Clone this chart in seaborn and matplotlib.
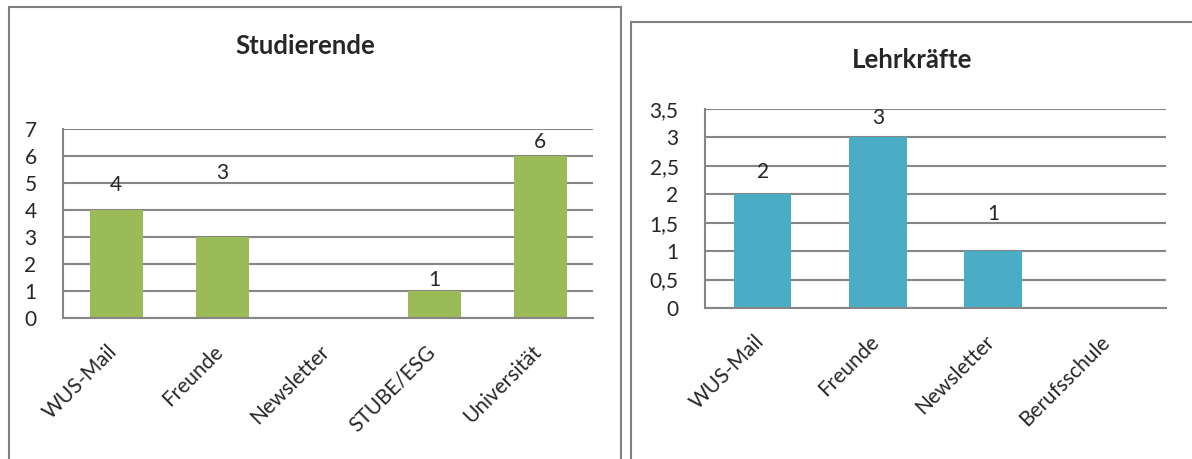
import matplotlib
matplotlib.use("Agg")
import matplotlib.pyplot as plt
import matplotlib.patches as patches
import matplotlib.transforms as mtransforms
from matplotlib.ticker import FuncFormatter, FixedLocator
import numpy as np
import pandas as pd
import seaborn as sns

# data
stud_cats = ["WUS-Mail", "Freunde", "Newsletter", "STUBE/ESG", "Universität"]
stud_vals = [4, 3, 0, 1, 6]
lehr_cats = ["WUS-Mail", "Freunde", "Newsletter", "Berufsschule"]
lehr_vals = [2, 3, 1, 0]

# label lift above each bar (data units), as placed in the original
stud_lift = [0.93, 2.37, 0, 0.41, 0.53]
lehr_lift = [0.39, 0.34, 0.65, 0]

sns.set_style("white")
plt.rcParams["font.family"] = ["Lato", "DejaVu Sans"]

W, H = 1192, 459
GREEN = "#9BBB59"
BLUE = "#4BACC6"
GRID = "#868686"
FS = 15


def px_axes(fig, x0, y0, x1, y1):
    # axes from pixel box (top-left origin)
    return fig.add_axes([x0 / W, (H - y1) / H, (x1 - x0) / W, (y1 - y0) / H])


def draw_panel(ax, cats, vals, lift, color, ymax, ystep):
    df = pd.DataFrame({"cat": cats, "val": vals})
    sns.barplot(data=df, x="cat", y="val", color=color, width=0.5,
                saturation=1, linewidth=0, ax=ax)
    n = len(cats)
    ax.set_xlim(-0.5, n - 0.5)
    ax.set_ylim(0, ymax)
    ax.set_xlabel("")
    ax.set_ylabel("")
    ticks = np.arange(0, ymax + ystep / 2, ystep)
    ax.yaxis.set_major_locator(FixedLocator(ticks))
    ax.yaxis.set_major_formatter(
        FuncFormatter(lambda v, p: ("%g" % v).replace(".", ",")))
    ax.grid(axis="y", color=GRID, lw=1.5)
    ax.set_axisbelow(True)
    for s in ["top", "right"]:
        ax.spines[s].set_visible(False)
    for s in ["left", "bottom"]:
        ax.spines[s].set_color(GRID)
        ax.spines[s].set_linewidth(1.5)
    ax.tick_params(axis="y", direction="out", length=8, width=1.5,
                   color=GRID, labelsize=FS, pad=11)
    ax.set_xticks(range(n))
    ax.set_xticklabels(cats, rotation=45, ha="right", rotation_mode="anchor",
                       fontsize=FS)
    ax.tick_params(axis="x", which="major", length=0, pad=17)
    shift = mtransforms.ScaledTranslation(-9 / 100, 0, ax.figure.dpi_scale_trans)
    for lab in ax.get_xticklabels():
        lab.set_transform(lab.get_transform() + shift)
    ax.set_xticks(np.arange(-0.5, n), minor=True)
    ax.tick_params(axis="x", which="minor", direction="out", length=7,
                   width=1.5, color=GRID)
    for i, (v, d) in enumerate(zip(vals, lift)):
        if v:
            ax.text(i, v + d, str(v), ha="center", va="center", fontsize=FS)


fig = plt.figure(figsize=(W / 100, H / 100), dpi=100)

ax1 = px_axes(fig, 63, 129, 593, 318)
draw_panel(ax1, stud_cats, stud_vals, stud_lift, GREEN, 7, 1)

ax2 = px_axes(fig, 705, 109, 1166, 308)
draw_panel(ax2, lehr_cats, lehr_vals, lehr_lift, BLUE, 3.5, 0.5)

fig.text(305 / W, 1 - 46 / H, "Studierende", ha="center", va="center",
         fontsize=18.5, fontweight="bold")
fig.text(912 / W, 1 - 60 / H, "Lehrkräfte", ha="center", va="center",
         fontsize=18.5, fontweight="bold")

# chart frames
fig.add_artist(patches.Rectangle((8.5 / W, -0.1), (621 - 8.5) / W,
                                 1.1 - 7.5 / H, transform=fig.transFigure,
                                 fill=False, ec="#7f7f7f", lw=1.5))
fig.add_artist(patches.Rectangle((631.5 / W, -0.1), 0.5,
                                 1.1 - 22.5 / H, transform=fig.transFigure,
                                 fill=False, ec="#7f7f7f", lw=1.5))

fig.savefig("out.png", dpi=100)
